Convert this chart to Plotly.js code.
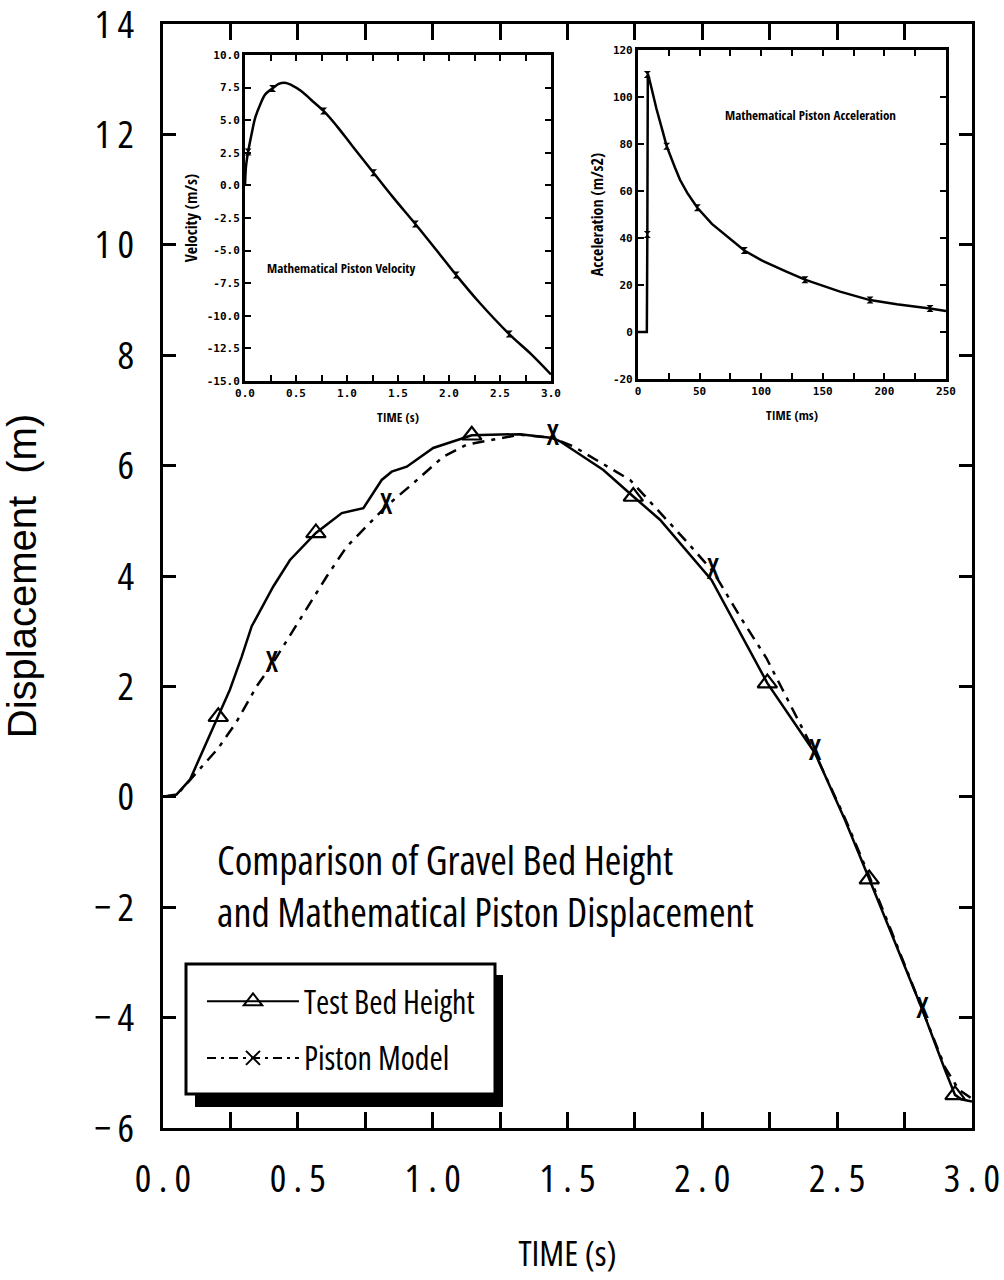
<!DOCTYPE html>
<html><head><meta charset="utf-8">
<script src="https://cdn.plot.ly/plotly-3.0.1.min.js"></script>
<style>body{margin:0;background:#fff} svg text{font-stretch:condensed !important}</style>
</head><body>
<div id="chart" style="width:1004px;height:1280px"></div>
<script>
// ---- main chart data ----
const bedTime = [0, 0.05, 0.1, 0.15, 0.205, 0.248, 0.292, 0.329, 0.409, 0.471, 0.567, 0.663, 0.743, 0.768, 0.811, 0.848, 0.904, 1.002, 1.145, 1.324, 1.445, 1.472, 1.633, 1.744, 1.843, 2.034, 2.241, 2.418, 2.529, 2.619, 2.7, 2.817, 2.9, 2.937, 2.96, 3.0];
const bedHeight = [0, 0.04, 0.31, 0.85, 1.45, 1.94, 2.54, 3.09, 3.81, 4.29, 4.78, 5.14, 5.23, 5.41, 5.74, 5.89, 5.98, 6.32, 6.55, 6.57, 6.50, 6.44, 5.92, 5.44, 5.02, 3.93, 2.06, 0.79, -0.42, -1.49, -2.45, -3.87, -4.95, -5.40, -5.48, -5.52];
const bedMarkTime = [0.205, 0.567, 1.145, 1.744, 2.241, 2.619, 2.937];
const bedMarkHeight = [1.45, 4.78, 6.55, 5.44, 2.06, -1.49, -5.40];

const pistonTime = [0, 0.05, 0.112, 0.205, 0.273, 0.347, 0.403, 0.508, 0.607, 0.681, 0.827, 0.928, 1.039, 1.126, 1.324, 1.445, 1.521, 1.732, 1.935, 2.040, 2.139, 2.238, 2.374, 2.418, 2.53, 2.62, 2.7, 2.817, 2.9, 2.95, 3.0];
const pistonDisp = [0, 0.03, 0.37, 0.88, 1.36, 2.0, 2.39, 3.21, 3.99, 4.53, 5.26, 5.68, 6.16, 6.38, 6.56, 6.50, 6.35, 5.74, 4.66, 4.08, 3.27, 2.51, 1.21, 0.79, -0.4, -1.45, -2.42, -3.87, -4.9, -5.3, -5.47];
const pistonMarkTime = [0.403, 0.827, 1.445, 2.040, 2.418, 2.817];
const pistonMarkDisp = [2.39, 5.26, 6.50, 4.08, 0.79, -3.87];

// ---- velocity inset ----
const velTime = [0, 0.01, 0.03, 0.066, 0.1, 0.147, 0.2, 0.27, 0.33, 0.39, 0.46, 0.55, 0.65, 0.77, 0.9, 1.05, 1.26, 1.45, 1.67, 1.87, 2.07, 2.3, 2.59, 2.8, 3.0];
const velValue = [0, 1.5, 2.56, 4.0, 5.2, 6.17, 7.0, 7.44, 7.78, 7.88, 7.68, 7.25, 6.55, 5.71, 4.55, 3.05, 0.97, -0.9, -2.96, -4.9, -6.87, -9.0, -11.4, -12.9, -14.5];
const velMarkTime = [0.03, 0.27, 0.77, 1.26, 1.67, 2.07, 2.59];
const velMarkValue = [2.56, 7.44, 5.71, 0.97, -2.96, -6.87, -11.4];

// ---- acceleration inset ----
const accTime = [0, 7.2, 7.6, 8.0, 10, 15, 20, 23.3, 30, 34.1, 40, 48.2, 60, 69.3, 86.3, 100, 109.8, 120, 135.5, 150, 164, 188.3, 210, 237, 250];
const accValue = [0, 0, 41.5, 110, 106, 95, 85.5, 79.1, 70, 64.8, 59.2, 52.9, 46, 42, 34.7, 30.6, 28.2, 25.8, 22.3, 19.6, 17.2, 13.6, 11.8, 10, 9];
const accMarkTime = [7.6, 7.6, 23.3, 48.2, 86.3, 135.5, 188.3, 237];
const accMarkValue = [41.5, 109.6, 79.1, 52.9, 34.7, 22.3, 13.6, 10];

// ---- tick labels ----
const mainXTickVals = [0, 0.25, 0.5, 0.75, 1, 1.25, 1.5, 1.75, 2, 2.25, 2.5, 2.75, 3];
const mainXTickText = ["0 . 0", "", "0 . 5", "", "1 . 0", "", "1 . 5", "", "2 . 0", "", "2 . 5", "", "3 . 0"];
const mainYTickVals = [-6, -4, -2, 0, 2, 4, 6, 8, 10, 12, 14];
const mainYTickText = ["\u2212\u20096", "\u2212\u20094", "\u2212\u20092", "0", "2", "4", "6", "8", "1\u20090", "1\u20092", "1\u20094"];
const velXTickVals = [0, 0.25, 0.5, 0.75, 1, 1.25, 1.5, 1.75, 2, 2.25, 2.5, 2.75, 3];
const velXTickText = ["0.0", "", "0.5", "", "1.0", "", "1.5", "", "2.0", "", "2.5", "", "3.0"];
const velYTickVals = [-15, -12.5, -10, -7.5, -5, -2.5, 0, 2.5, 5, 7.5, 10];
const velYTickText = ["-15.0", "-12.5", "-10.0", "-7.5", "-5.0", "-2.5", "0.0", "2.5", "5.0", "7.5", "10.0"];
const accXTickVals = [0, 25, 50, 75, 100, 125, 150, 175, 200, 225, 250];
const accXTickText = ["0", "", "50", "", "100", "", "150", "", "200", "", "250"];
const accYTickVals = [-20, 0, 20, 40, 60, 80, 100, 120];
const accYTickText = ["-20", "0", "20", "40", "60", "80", "100", "120"];

const NARROW = "Open Sans, sans-serif";
const NARROWB = "Open Sans Condensed, Open Sans, sans-serif";
const MONO = "DejaVu Sans Mono, monospace";
const K = "#000";

const traces = [
  {x: bedTime, y: bedHeight, mode: "lines", line: {color: K, width: 2.5}, showlegend: false},
  {x: bedMarkTime, y: bedMarkHeight, mode: "markers", showlegend: false,
   marker: {symbol: "triangle-up-open", size: 17, color: K, line: {width: 2.2, color: K}}},
  {x: pistonTime, y: pistonDisp, mode: "lines", line: {color: K, width: 2.5, dash: "12px,7px,4px,7px"}, showlegend: false},
  {x: pistonMarkTime, y: pistonMarkDisp, mode: "text", text: pistonMarkTime.map(() => "X"), showlegend: false,
   textposition: "middle center", textfont: {family: NARROW, size: 29, color: K, weight: 600}},
  // legend entries
  {x: [null], y: [null], mode: "lines+markers", name: "Test Bed Height", legendgroup: "a",
   line: {color: K, width: 2}, marker: {symbol: "triangle-up-open", size: 16, color: K, line: {width: 2, color: K}}},
  {x: [null], y: [null], mode: "lines+markers", name: "Piston Model", legendgroup: "b",
   line: {color: K, width: 2, dash: "9px,5px,3px,5px"}, marker: {symbol: "x-thin-open", size: 14, color: K, line: {width: 2, color: K}}},
  // velocity inset
  {x: velTime, y: velValue, xaxis: "x2", yaxis: "y2", mode: "lines", line: {color: K, width: 2.5, shape: "spline"}, showlegend: false},
  {x: velMarkTime, y: velMarkValue, xaxis: "x2", yaxis: "y2", mode: "markers", showlegend: false,
   marker: {symbol: "hourglass", size: 7, color: K}},
  // acceleration inset
  {x: accTime, y: accValue, xaxis: "x3", yaxis: "y3", mode: "lines", line: {color: K, width: 2.5}, showlegend: false},
  {x: accMarkTime, y: accMarkValue, xaxis: "x3", yaxis: "y3", mode: "markers", showlegend: false,
   marker: {symbol: "hourglass", size: 7, color: K}}
];

function insetAxis(extra) {
  return Object.assign({
    showline: true, linewidth: 3, linecolor: K, mirror: "ticks",
    ticks: "inside", ticklen: 6, tickwidth: 2, tickcolor: K,
    showgrid: false, zeroline: false, tickmode: "array",
    tickfont: {family: MONO, size: 11, color: K, weight: "bold"}
  }, extra);
}

const layout = {
  width: 1004, height: 1280,
  margin: {l: 163, r: 32, t: 24, b: 152},
  paper_bgcolor: "#fff", plot_bgcolor: "#fff",
  font: {family: NARROW, color: K},
  showlegend: true,
  legend: {x: 0.0482, y: 0.1395, xanchor: "left", yanchor: "top",
    bgcolor: "rgba(0,0,0,0)", borderwidth: 0,
    font: {family: NARROW, size: 32, color: K},
    itemwidth: 92, traceorder: "grouped", tracegroupgap: 12},
  xaxis: {domain: [0, 1], range: [0, 3], showline: true, linewidth: 3, linecolor: K, mirror: "ticks",
    ticks: "inside", ticklen: 16, tickwidth: 3, tickcolor: K, showgrid: false, zeroline: false,
    tickmode: "array", tickvals: mainXTickVals, ticktext: mainXTickText, ticklabeloverflow: "allow",
    tickfont: {family: NARROW, size: 39, color: K}, ticklabelstandoff: 14,
    title: {text: "TIME (s)", font: {family: NARROW, size: 35, color: K}, standoff: 40}},
  yaxis: {domain: [0, 1], range: [-6, 14], showline: true, linewidth: 3, linecolor: K, mirror: "ticks",
    ticks: "inside", ticklen: 13, tickwidth: 3, tickcolor: K, showgrid: false, zeroline: false,
    tickmode: "array", tickvals: mainYTickVals, ticktext: mainYTickText, ticklabeloverflow: "allow",
    tickfont: {family: NARROW, size: 39, color: K}, ticklabelstandoff: 18,
    title: {text: "Displacement  (m)", font: {family: "Liberation Sans, Arial, sans-serif", size: 40, color: K}, standoff: 52}},
  xaxis2: insetAxis({domain: [0.1014, 0.4796], anchor: "y2", range: [0, 3],
    tickvals: velXTickVals, ticktext: velXTickText,
    title: {text: "TIME (s)", font: {family: NARROWB, size: 13, color: K, weight: "bold"}, standoff: 14}}),
  yaxis2: insetAxis({domain: [0.6766, 0.9719], anchor: "x2", range: [-15, 10],
    tickvals: velYTickVals, ticktext: velYTickText,
    title: {text: "Velocity (m/s)", font: {family: NARROWB, size: 16, color: K, weight: "bold"}, standoff: 6}}),
  xaxis3: insetAxis({domain: [0.5871, 0.9679], anchor: "y3", range: [0, 250],
    tickvals: accXTickVals, ticktext: accXTickText,
    title: {text: "TIME (ms)", font: {family: NARROWB, size: 13, color: K, weight: "bold"}, standoff: 14}}),
  yaxis3: insetAxis({domain: [0.6784, 0.9764], anchor: "x3", range: [-20, 120],
    tickvals: accYTickVals, ticktext: accYTickText,
    title: {text: "Acceleration (m/s2)", font: {family: NARROWB, size: 16, color: K, weight: "bold"}, standoff: 6}}),
  shapes: [
    {type: "rect", xref: "paper", yref: "paper", layer: "above",
     x0: (195 - 163) / 809, x1: (503 - 163) / 809, y0: (1128 - 1107) / 1104, y1: (1128 - 975) / 1104,
     fillcolor: K, line: {width: 0}},
    {type: "rect", xref: "paper", yref: "paper", layer: "above",
     x0: (186 - 163) / 809, x1: (495 - 163) / 809, y0: (1128 - 1094) / 1104, y1: (1128 - 964) / 1104,
     fillcolor: "#fff", line: {width: 3, color: K}}
  ],
  annotations: [
    {xref: "paper", yref: "paper", x: 0.0643, y: 0.2197, xanchor: "left", yanchor: "middle", align: "left",
     showarrow: false, text: "Comparison of Gravel Bed Height<br>and Mathematical Piston Displacement",
     font: {family: NARROW, size: 40, color: K}},
    {xref: "paper", yref: "paper", x: 0.126, y: 0.779, xanchor: "left", yanchor: "middle", showarrow: false,
     text: "Mathematical Piston Velocity", font: {family: NARROWB, size: 13, color: K, weight: "bold"}},
    {xref: "paper", yref: "paper", x: 0.692, y: 0.9176, xanchor: "left", yanchor: "middle", showarrow: false,
     text: "Mathematical Piston Acceleration", font: {family: NARROWB, size: 13, color: K, weight: "bold"}}
  ]
};

Plotly.newPlot("chart", traces, layout, {displayModeBar: false, staticPlot: true});
</script>
</body></html>
